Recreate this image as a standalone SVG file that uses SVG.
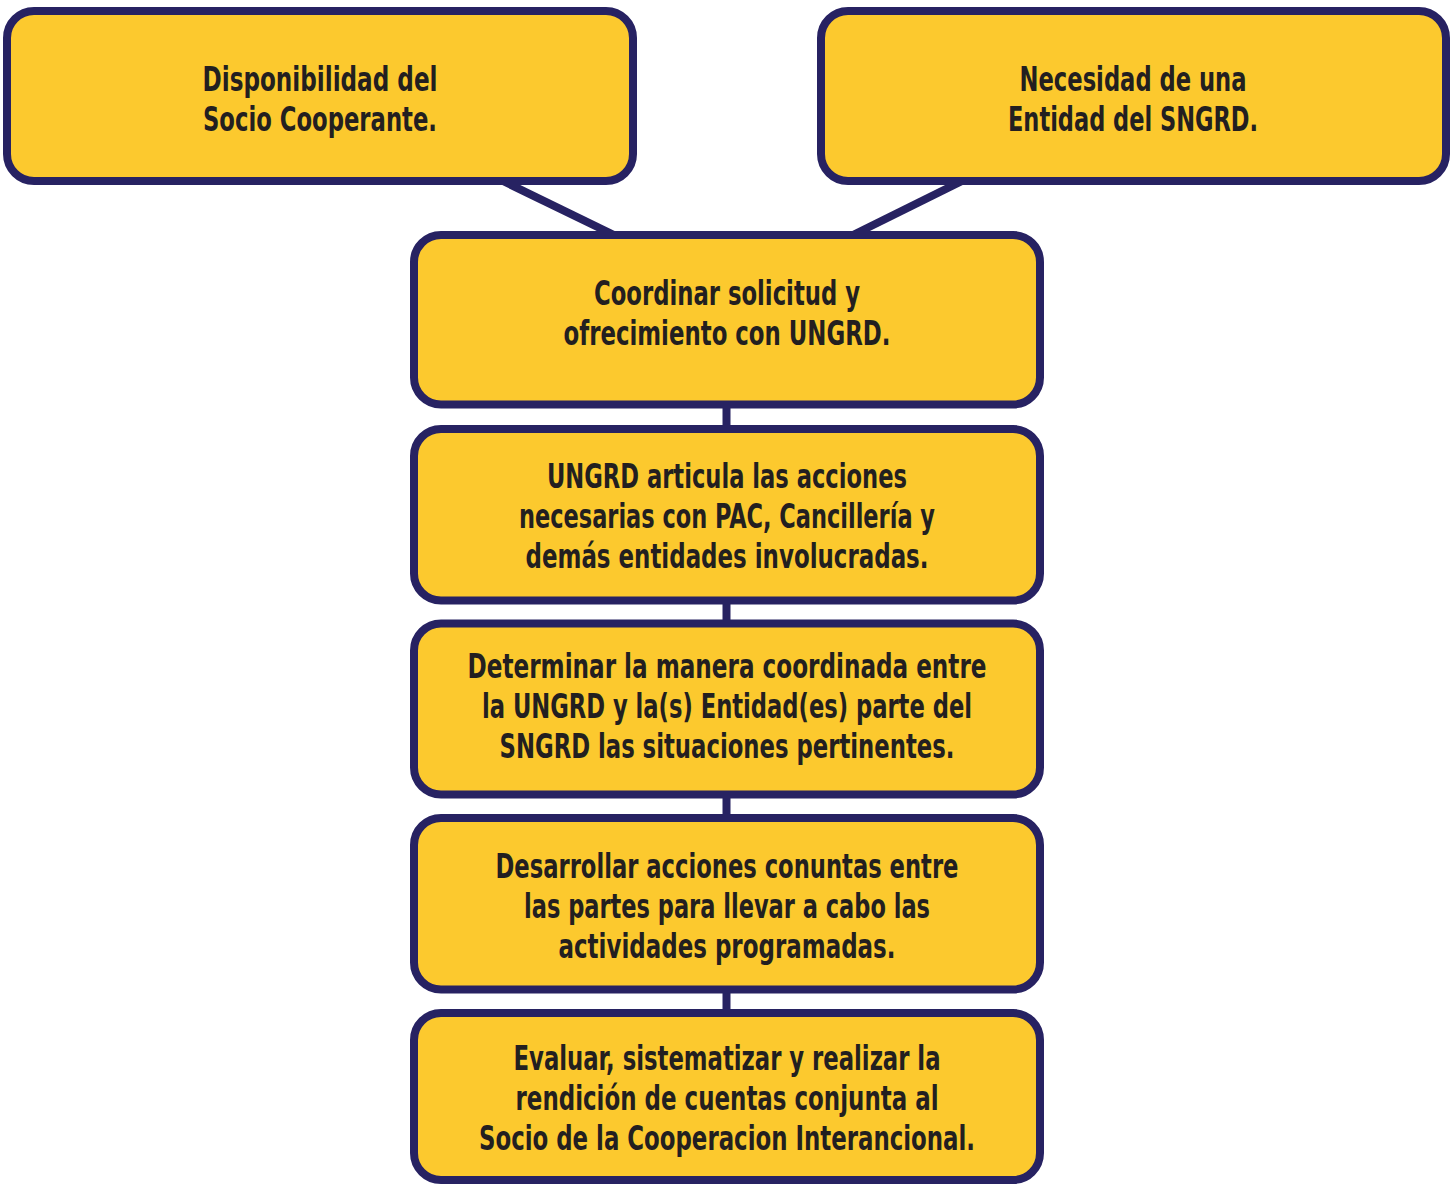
<svg xmlns="http://www.w3.org/2000/svg" width="1455" height="1184" viewBox="0 0 1455 1184">
<style>
.box{fill:#FCC92E;stroke:#272262;stroke-width:8}
.conn{stroke:#272262;stroke-width:8;fill:none}
text{font-family:"DejaVu Sans Condensed","DejaVu Sans","Liberation Sans",sans-serif;font-stretch:condensed;font-weight:bold;font-size:33px;fill:#231F20;text-anchor:middle}
</style>
<rect width="1455" height="1184" fill="#FFFFFF"/>
<g id="connectors">
<line class="conn" x1="503" y1="181" x2="614" y2="235"/>
<line class="conn" x1="962" y1="181" x2="853" y2="235"/>
<line class="conn" x1="726.5" y1="404" x2="726.5" y2="429"/>
<line class="conn" x1="726.5" y1="600" x2="726.5" y2="624"/>
<line class="conn" x1="726.5" y1="794" x2="726.5" y2="818"/>
<line class="conn" x1="726.5" y1="989" x2="726.5" y2="1013"/>
</g>
<g id="node-socio">
<rect class="box" x="7" y="11" width="626" height="170" rx="27"/>
<text x="320" y="91" textLength="235" lengthAdjust="spacingAndGlyphs">Disponibilidad del</text>
<text x="320" y="131" textLength="234" lengthAdjust="spacingAndGlyphs">Socio Cooperante.</text>
</g>
<g id="node-necesidad">
<rect class="box" x="821" y="11" width="625" height="170" rx="27"/>
<text x="1133" y="91" textLength="227" lengthAdjust="spacingAndGlyphs">Necesidad de una</text>
<text x="1133" y="131" textLength="250" lengthAdjust="spacingAndGlyphs">Entidad del SNGRD.</text>
</g>
<g id="node-coordinar">
<rect class="box" x="414" y="235" width="626" height="169.5" rx="27"/>
<text x="727" y="305" textLength="266" lengthAdjust="spacingAndGlyphs">Coordinar solicitud y</text>
<text x="727" y="345" textLength="327" lengthAdjust="spacingAndGlyphs">ofrecimiento con UNGRD.</text>
</g>
<g id="node-articula">
<rect class="box" x="414" y="429" width="626" height="171.5" rx="27"/>
<text x="727" y="488" textLength="360" lengthAdjust="spacingAndGlyphs">UNGRD articula las acciones</text>
<text x="727" y="528" textLength="416" lengthAdjust="spacingAndGlyphs">necesarias con PAC, Cancillería y</text>
<text x="727" y="568" textLength="403" lengthAdjust="spacingAndGlyphs">demás entidades involucradas.</text>
</g>
<g id="node-determinar">
<rect class="box" x="414" y="623.5" width="626" height="171" rx="27"/>
<text x="727" y="678" textLength="519" lengthAdjust="spacingAndGlyphs">Determinar la manera coordinada entre</text>
<text x="727" y="718" textLength="490" lengthAdjust="spacingAndGlyphs">la UNGRD y la(s) Entidad(es) parte del</text>
<text x="727" y="758" textLength="455" lengthAdjust="spacingAndGlyphs">SNGRD las situaciones pertinentes.</text>
</g>
<g id="node-desarrollar">
<rect class="box" x="414" y="818" width="626" height="171.5" rx="27"/>
<text x="727" y="878" textLength="463" lengthAdjust="spacingAndGlyphs">Desarrollar acciones conuntas entre</text>
<text x="727" y="918" textLength="406" lengthAdjust="spacingAndGlyphs">las partes para llevar a cabo las</text>
<text x="727" y="958" textLength="337" lengthAdjust="spacingAndGlyphs">actividades programadas.</text>
</g>
<g id="node-evaluar">
<rect class="box" x="414" y="1013" width="626" height="167" rx="27"/>
<text x="727" y="1070" textLength="427" lengthAdjust="spacingAndGlyphs">Evaluar, sistematizar y realizar la</text>
<text x="727" y="1110" textLength="423" lengthAdjust="spacingAndGlyphs">rendición de cuentas conjunta al</text>
<text x="727" y="1150" textLength="496" lengthAdjust="spacingAndGlyphs">Socio de la Cooperacion Interancional.</text>
</g>
</svg>
